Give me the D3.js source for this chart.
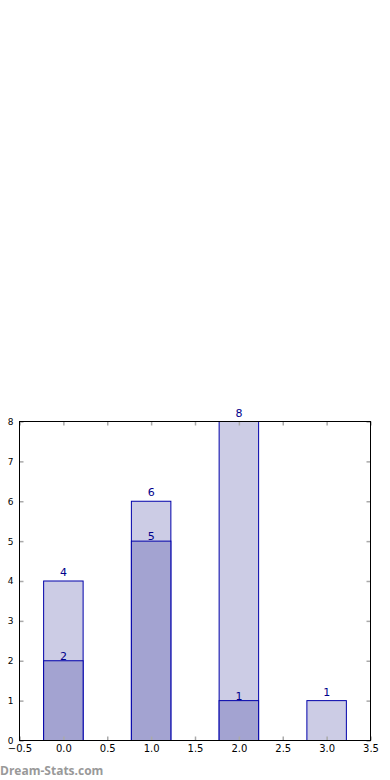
<!DOCTYPE html>
<html>
<head>
<meta charset="utf-8">
<style>
  body { margin: 0; background: #fff; font-family: "DejaVu Sans", sans-serif; }
  .tick text { font-family: "DejaVu Sans", sans-serif; }
</style>
<script src="https://cdn.jsdelivr.net/npm/d3@7"></script>
</head>
<body>
<script>
// data
var positions = [0, 1, 2, 3];
var backValues = [4, 6, 8, 1];     // light bars
var frontPositions = [0, 1, 2];
var frontValues = [2, 5, 1];       // dark bars
var xTicks = [-0.5, 0, 0.5, 1, 1.5, 2, 2.5, 3, 3.5];
var yTicks = [0, 1, 2, 3, 4, 5, 6, 7, 8];

var W = 390, H = 780;
var margin = {left: 19.5, right: 19.5, top: 421.5, bottom: 39.5};

var svg = d3.select("body").append("svg")
  .attr("width", W).attr("height", H);

var x = d3.scaleLinear().domain([-0.5, 3.5]).range([margin.left, W - margin.right]);
var y = d3.scaleLinear().domain([0, 8]).range([H - margin.bottom, margin.top]);

var barW = 0.45;

// light bars
svg.selectAll(".back").data(positions).enter().append("rect")
  .attr("x", (d) => x(d - barW / 2))
  .attr("width", (d) => x(d + barW / 2) - x(d - barW / 2))
  .attr("y", (d, i) => y(backValues[i]))
  .attr("height", (d, i) => y(0) - y(backValues[i]))
  .attr("fill", "#ccccE5")
  .attr("stroke", "#0000aa")
  .attr("stroke-width", 1);

// dark bars
svg.selectAll(".front").data(frontPositions).enter().append("rect")
  .attr("x", (d) => x(d - barW / 2))
  .attr("width", (d) => x(d + barW / 2) - x(d - barW / 2))
  .attr("y", (d, i) => y(frontValues[i]))
  .attr("height", (d, i) => y(0) - y(frontValues[i]))
  .attr("fill", "#a3a3d1")
  .attr("stroke", "#0000aa")
  .attr("stroke-width", 1);

// value labels
function labels(pos, vals, gap) {
  svg.selectAll(null).data(pos).enter().append("text")
    .attr("x", (d) => x(d))
    .attr("y", (d, i) => y(vals[i]) - gap)
    .attr("text-anchor", "middle")
    .attr("font-size", "11px")
    .attr("fill", "#00008b")
    .text((d, i) => vals[i]);
}
labels(positions, backValues, 5);
labels(frontPositions, frontValues, 1);

// axes, ticks pointing inward like matplotlib
var fmt = d3.format(".1f");
var gx = svg.append("g").attr("transform", "translate(0," + y(0) + ")")
  .call(d3.axisBottom(x).tickValues(xTicks).tickFormat(fmt).tickSizeInner(-4).tickSizeOuter(0).tickPadding(4));
var gxt = svg.append("g").attr("transform", "translate(0," + y(8) + ")")
  .call(d3.axisTop(x).tickValues(xTicks).tickFormat("").tickSizeInner(-4).tickSizeOuter(0));
var gy = svg.append("g").attr("transform", "translate(" + x(-0.5) + ",0)")
  .call(d3.axisLeft(y).tickValues(yTicks).tickFormat(d3.format("d")).tickSizeInner(-4).tickSizeOuter(0).tickPadding(6));
var gyr = svg.append("g").attr("transform", "translate(" + x(3.5) + ",0)")
  .call(d3.axisRight(y).tickValues(yTicks).tickFormat("").tickSizeInner(-4).tickSizeOuter(0));

[gx, gxt, gy, gyr].forEach(function(g) {
  g.select(".domain").remove();
  g.selectAll(".tick line").attr("stroke", "#aaaaaa").attr("stroke-width", 1.5);
  g.selectAll(".tick text").attr("fill", "#000");
});
gx.selectAll(".tick text").attr("font-size", "10px");
gy.selectAll(".tick text").attr("font-size", "9px");

// frame
svg.append("rect")
  .attr("x", x(-0.5)).attr("y", y(8))
  .attr("width", x(3.5) - x(-0.5)).attr("height", y(0) - y(8))
  .attr("fill", "none").attr("stroke", "#000").attr("stroke-width", 1);

// watermark
svg.append("text")
  .attr("x", 0).attr("y", 775)
  .attr("font-family", "'Open Sans', sans-serif")
  .attr("font-size", "12px").attr("font-weight", "bold")
  .attr("fill", "#999999")
  .text("Dream-Stats.com");
</script>
</body>
</html>
